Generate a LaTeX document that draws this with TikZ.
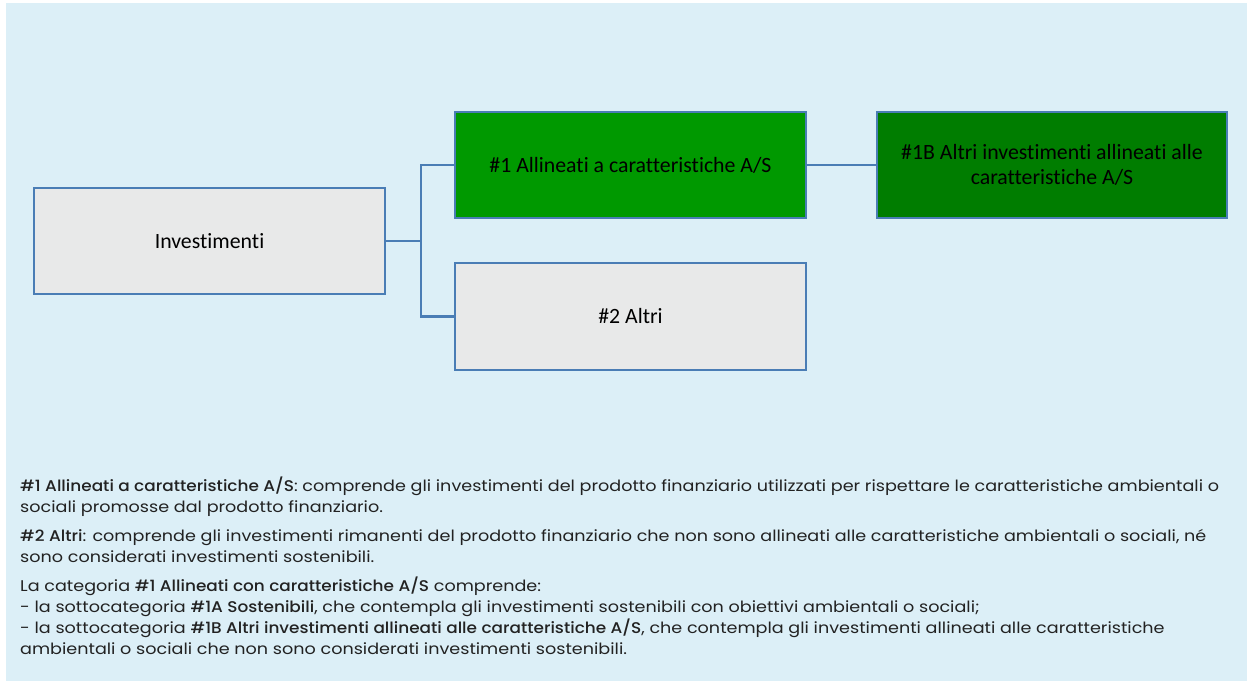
\documentclass[tikz,border=0pt]{standalone}
\usepackage{fontspec}
\setmainfont[FakeStretch=1.135, BoldFont=Poppins Medium, BoldFeatures={FakeStretch=1.09}]{Poppins}
\newfontfamily\boxfont[RawFeature={-liga;-dlig;-clig}]{Carlito}
\definecolor{bgblue}{HTML}{DCEFF7}
\definecolor{boxgray}{HTML}{E8E9E9}
\definecolor{edgeblue}{HTML}{4A7DB5}
\definecolor{greenA}{HTML}{009900}
\definecolor{greenB}{HTML}{007D00}
\definecolor{txt}{HTML}{222222}
\tikzset{
	catbox/.style={draw=edgeblue, line width=2.2pt, fill=boxgray, minimum width=351pt, minimum height=106pt, inner sep=0pt, font=\boxfont\fontsize{21.8}{25}\selectfont, align=center},
	link/.style={draw=edgeblue, line width=2.2pt}
}
\begin{document}
\begin{tikzpicture}[x=1pt, y=-1pt]
	\useasboundingbox (0,0) rectangle (1254,681);
	\fill[bgblue] (6,3) rectangle (1247,681);
	% boxes
	\node[catbox] (inv) at (209.5,241) {Investimenti};
	\node[catbox, fill=greenA] (a1) at (630.5,165) {\#1 Allineati a caratteristiche A/S};
	\node[catbox, fill=greenB, minimum width=350pt] (a1b) at (1052,165) {\#1B Altri investimenti allineati alle\\caratteristiche A/S};
	\node[catbox, minimum height=107pt] (alt) at (630.5,316.5) {\#2 Altri};
	% connectors
	\draw[link] (inv.east) -- ++(35,0) coordinate (fork);
	\draw[link] (fork) |- (a1.west);
	\draw[link] (fork) |- (alt.west);
	\draw[link] (a1.east) -- (a1b.west);
	% notes
	\node[anchor=north west, inner sep=0pt, text=txt, align=left, font=\fontsize{15.5}{21}\selectfont] (notes) at (20,477) {%
		\textbf{\#1 Allineati a caratteristiche A/S}: comprende gli investimenti del prodotto finanziario utilizzati per rispettare le caratteristiche ambientali o\\
		sociali promosse dal prodotto finanziario.\\[8pt]
		\textbf{\#2 Altri}: comprende gli investimenti rimanenti del prodotto finanziario che non sono allineati alle caratteristiche ambientali o sociali, né\\
		sono considerati investimenti sostenibili.\\[8pt]
		La categoria \textbf{\#1 Allineati con caratteristiche A/S} comprende:\\
		- la sottocategoria \textbf{\#1A Sostenibili}, che contempla gli investimenti sostenibili con obiettivi ambientali o sociali;\\
		- la sottocategoria \textbf{\#1B Altri investimenti allineati alle caratteristiche A/S}, che contempla gli investimenti allineati alle caratteristiche\\
		ambientali o sociali che non sono considerati investimenti sostenibili.};
\end{tikzpicture}
\end{document}
